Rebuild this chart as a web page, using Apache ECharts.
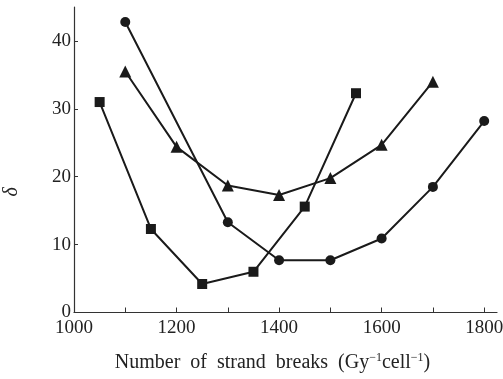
<!DOCTYPE html>
<html><head><meta charset="utf-8">
<script src="https://cdn.jsdelivr.net/npm/echarts@6/dist/echarts.min.js"></script>
<style>html,body{margin:0;padding:0;background:#fff}#c{width:503px;height:379px}</style>
</head><body><div id="c"></div>
<script>
var squareX = [1050, 1150, 1250, 1350, 1450, 1550];
var squareY = [31.0, 12.3, 4.2, 6.0, 15.6, 32.3];
var triangleX = [1100, 1200, 1300, 1400, 1500, 1600, 1700];
var triangleY = [35.5, 24.4, 18.7, 17.3, 19.8, 24.7, 34.0];
var circleX = [1100, 1300, 1400, 1500, 1600, 1700, 1800];
var circleY = [42.8, 13.3, 7.7, 7.7, 10.9, 18.5, 28.2];
var xTicks = [1000, 1100, 1200, 1300, 1400, 1500, 1600, 1700, 1800];
var xLabels = [1000, 1200, 1400, 1600, 1800];
var yTicks = [0, 10, 20, 30, 40];

function pairs(xs, ys) { return xs.map(function (x, i) { return [x, ys[i]]; }); }
var font = '"Liberation Serif", "Times New Roman", serif';
function series(xs, ys, sym, size) {
  return {
    type: 'line', data: pairs(xs, ys), symbol: sym, symbolSize: size,
    lineStyle: { color: '#1a1a1a', width: 2 }, itemStyle: { color: '#1a1a1a' },
    showAllSymbol: true, animation: false
  };
}
var chart = echarts.init(document.getElementById('c'));
chart.setOption({
  animation: false,
  grid: { left: 74, right: 6, top: 7, bottom: 66.5, containLabel: false, outerBoundsMode: 'none' },
  xAxis: {
    type: 'value', min: 1000, max: 1825,
    axisLine: { lineStyle: { color: '#333', width: 1.2 } },
    axisTick: { inside: true, length: 5, customValues: xTicks, lineStyle: { color: '#333' } },
    axisLabel: { customValues: xLabels, formatter: function (v) { return String(v); },
      color: '#222', fontFamily: font, fontSize: 19, margin: 6 },
    splitLine: { show: false },
    name: '{n|Number  of  strand  breaks  (Gy}{s|−1}{n|cell}{s|−1}{n|)}',
    nameLocation: 'middle', nameGap: 39,
    nameTextStyle: {
      padding: [0, 26, 0, 0],
      rich: {
        n: { fontFamily: font, fontSize: 20, color: '#222', lineHeight: 21, verticalAlign: 'bottom' },
        s: { fontFamily: font, fontSize: 12, color: '#222', lineHeight: 21, verticalAlign: 'top' }
      }
    }
  },
  yAxis: {
    type: 'value', min: 0, max: 45,
    axisLine: { show: true, lineStyle: { color: '#333', width: 1.2 } },
    axisTick: { show: true, inside: true, length: 4, customValues: yTicks, lineStyle: { color: '#333' } },
    axisLabel: { customValues: yTicks, color: '#222', fontFamily: font, fontSize: 19, margin: 3 },
    splitLine: { show: false },
    name: 'δ', nameLocation: 'middle', nameGap: 52, nameRotate: 90,
    nameTextStyle: { fontFamily: font, fontStyle: 'italic', fontSize: 20, color: '#222', padding: [0, 64, 0, 0] }
  },
  series: [
    series(squareX, squareY, 'rect', 10),
    series(triangleX, triangleY, 'triangle', 12),
    series(circleX, circleY, 'circle', 10)
  ]
});
</script></body></html>
